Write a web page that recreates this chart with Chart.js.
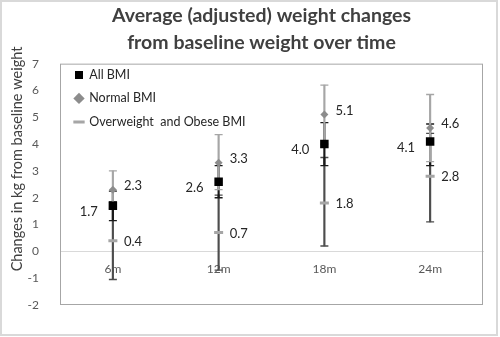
<!DOCTYPE html>
<html><head><meta charset="utf-8">
<script src="https://cdn.jsdelivr.net/npm/chart.js@4.4.1/dist/chart.umd.min.js"></script>
<style>html,body{margin:0;padding:0;background:#fff}#wrap{width:500px;height:337px;position:relative}</style>
</head><body><div id="wrap"><canvas id="c" width="500" height="337"></canvas></div>
<script>
const categories = ['6m', '12m', '18m', '24m'];
const allBMI = [1.7, 2.6, 4.0, 4.1];
const normalBMI = [2.3, 3.3, 5.1, 4.6];
const overweightBMI = [0.4, 0.7, 1.8, 2.8];
const allLow = [1.15, 2.0, 3.2, 3.2];
const allHigh = [2.25, 3.2, 4.8, 4.75];
const normalLow = [1.6, 2.3, 4.0, 3.35];
const normalHigh = [3.0, 4.35, 6.2, 5.85];
const owLow = [-1.05, -0.7, 0.2, 1.1];
const owHigh = [1.85, 2.1, 3.5, 4.4];
const yTicks = [-2, -1, 0, 1, 2, 3, 4, 5, 6, 7];
const seriesNames = ['All BMI', 'Normal BMI', 'Overweight  and Obese BMI'];
const titleLines = ['Average (adjusted) weight changes', 'from baseline weight over time'];
const yTitle = 'Changes in kg from baseline weight';

const COL_ALL = '#000000', COL_NORM = '#8c8c8c', COL_OW = '#a6a6a6';
const BAR_ALL = '#1a1a1a', BAR_NORM = '#a6a6a6', BAR_OW = '#4d4d4d';

function rangeBar(low, high, color, order) {
  return { type: 'bar', data: low.map((v, i) => [v, high[i]]), backgroundColor: color, borderWidth: 0,
    barThickness: 1.5, grouped: false, order: order, isAux: true };
}
function caps(vals, color, order) {
  return { type: 'line', data: vals, showLine: false, pointStyle: 'line', pointRadius: 4,
    pointBorderWidth: 1.3, pointBorderColor: color, pointBackgroundColor: color, order: order, isAux: true };
}

const framePlugin = {
  id: 'frame',
  beforeDatasetsDraw(chart) {
    const ctx = chart.ctx, a = chart.chartArea;
    ctx.save();
    ctx.strokeStyle = '#a6a6a6'; ctx.lineWidth = 1;
    ctx.strokeRect(a.left + 0.5, a.top + 0.5, a.right - a.left - 1, a.bottom - a.top - 1);
    ctx.strokeStyle = '#d9d9d9'; ctx.lineWidth = 2;
    ctx.strokeRect(1, 1, chart.width - 4, chart.height - 3);
    ctx.translate(17, 159);
    ctx.rotate(-Math.PI / 2);
    ctx.fillStyle = '#404040';
    ctx.font = '14.5px Lato';
    ctx.textAlign = 'center'; ctx.textBaseline = 'middle';
    ctx.fillText(yTitle, 0, 0);
    ctx.restore();
  }
};

const labelPlugin = {
  id: 'vlabels',
  afterDatasetsDraw(chart) {
    const ctx = chart.ctx;
    ctx.save();
    ctx.font = '13px Lato';
    ctx.fillStyle = '#262626';
    ctx.textBaseline = 'middle';
    const specs = [
      { idx: 0, vals: allBMI, dx: -15, dy: 6, align: 'right' },
      { idx: 1, vals: normalBMI, dx: 11, dy: -4, align: 'left' },
      { idx: 2, vals: overweightBMI, dx: 11, dy: 1, align: 'left' }
    ];
    specs.forEach(s => {
      const meta = chart.getDatasetMeta(s.idx);
      meta.data.forEach((pt, i) => {
        ctx.textAlign = s.align;
        ctx.fillText(s.vals[i].toFixed(1), pt.x + s.dx, pt.y + s.dy);
      });
    });
    ctx.restore();
  },
  afterLayout(chart) {
    const a = chart.chartArea;
    const lg = chart.legend;
    if (lg) {
      const w = lg.width, h = lg.height;
      lg.left = a.left + 4; lg.top = a.top - 6;
      lg.right = lg.left + w; lg.bottom = lg.top + h;
    }
    const tb = chart.titleBlock;
    if (tb) { tb.left += 20; tb.right += 20; }
  }
};

new Chart(document.getElementById('c'), {
  type: 'bar',
  data: {
    labels: categories,
    datasets: [
      { type: 'line', label: seriesNames[0], data: allBMI, showLine: false, pointStyle: 'rect', pointRadius: 6,
        pointBackgroundColor: COL_ALL, pointBorderColor: COL_ALL, pointBorderWidth: 0, order: 0 },
      { type: 'line', label: seriesNames[1], data: normalBMI, showLine: false, pointStyle: 'rectRot', pointRadius: 4,
        pointBackgroundColor: COL_NORM, pointBorderColor: COL_NORM, pointBorderWidth: 0, order: 1 },
      { type: 'line', label: seriesNames[2], data: overweightBMI, showLine: false, pointStyle: 'line', pointRadius: 4.5,
        pointBackgroundColor: COL_OW, pointBorderColor: COL_OW, pointBorderWidth: 3, order: 2 },
      rangeBar(normalLow, normalHigh, BAR_NORM, 3),
      caps(normalLow, BAR_NORM, 3), caps(normalHigh, BAR_NORM, 3),
      rangeBar(allLow, allHigh, BAR_ALL, 4),
      caps(allLow, BAR_ALL, 4), caps(allHigh, BAR_ALL, 4),
      rangeBar(owLow, owHigh, BAR_OW, 5),
      caps(owLow, BAR_OW, 5), caps(owHigh, BAR_OW, 5)
    ]
  },
  options: {
    responsive: false, animation: false, events: [], devicePixelRatio: 1,
    layout: { padding: { left: 0, right: 17, top: 0, bottom: 32 } },
    scales: {
      x: {
        type: 'category', offset: true, position: { y: 0 },
        grid: { display: false, drawTicks: false },
        border: { display: true, color: '#d9d9d9', width: 1 },
        ticks: { color: '#595959', font: { family: 'Lato', size: 12 }, padding: 11 }
      },
      y: {
        min: -2, max: 7,
        afterBuildTicks: s => { s.ticks = yTicks.map(v => ({ value: v })); },
        afterFit: s => { s.width = 60; },
        grid: { display: false, drawTicks: false },
        border: { display: false },
        ticks: { color: '#595959', font: { family: 'Lato', size: 12 }, padding: 21 }
      }
    },
    plugins: {
      title: { display: true, text: titleLines, color: '#404040',
        font: { family: 'Lato', size: 19.5, weight: 'bold', lineHeight: 1.35 }, padding: { top: 3, bottom: 8 } },
      legend: {
        display: true, position: 'chartArea', align: 'start', fullSize: false,
        labels: { usePointStyle: true, boxWidth: 8, boxHeight: 8, padding: 11, color: '#262626',
          font: { family: 'Lato', size: 12.5 },
          filter: (item, data) => !data.datasets[item.datasetIndex].isAux }
      },
      tooltip: { enabled: false }
    }
  },
  plugins: [framePlugin, labelPlugin]
});
</script></body></html>
